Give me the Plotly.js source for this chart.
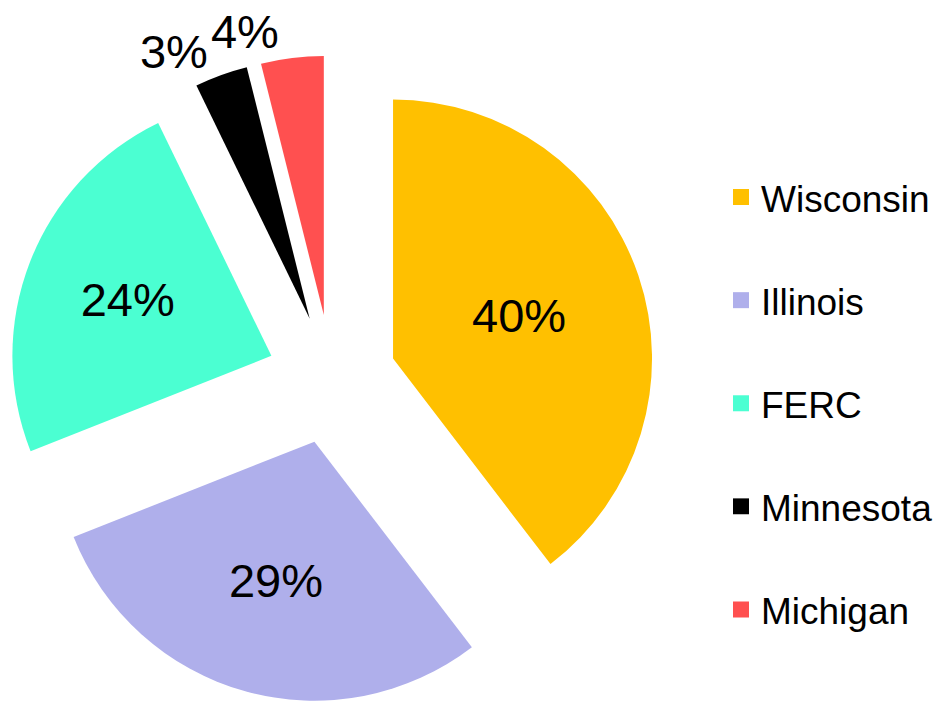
<!DOCTYPE html>
<html>
<head>
<meta charset="utf-8">
<script src="https://cdn.plot.ly/plotly-3.0.1.min.js"></script>
<style>html,body{margin:0;padding:0;background:#fff;overflow:hidden}#chart{width:938px;height:703px}</style>
</head>
<body>
<div id="chart"></div>
<script>
const categories = ["Wisconsin", "Illinois", "FERC", "Minnesota", "Michigan"];
const shares = [39.6, 29.4, 23.8, 3.3, 3.9];
const colors = ["#FFC000", "#AFAFEB", "#4BFFD2", "#000000", "#FF5050"];
// labels of the two thin slices sit outside; each is drawn by its own pie layer
// so that Plotly does not push one label away from the other
const textPositionsMain = ["inside", "inside", "inside", "outside", "none"];
const textPositionsTop = ["none", "none", "none", "none", "outside"];

const FONT = "Liberation Sans, Arial, sans-serif";
const DOMAIN = {x: [0, 0.7073], y: [0, 0.921]};

function pieLayer(markerColors, positions) {
  return {
    type: "pie",
    labels: categories,
    values: shares,
    sort: false,
    direction: "clockwise",
    rotation: 0,
    pull: categories.map(() => 0.25),
    marker: {colors: markerColors, line: {width: 0}},
    texttemplate: "%{percent:.0%}",
    textposition: positions,
    insidetextorientation: "horizontal",
    textfont: {family: FONT, size: 47, color: "#000000"},
    outsidetextfont: {family: FONT, size: 47, color: "#000000"},
    automargin: false,
    showlegend: false,
    domain: DOMAIN,
    hoverinfo: "none"
  };
}

const traces = [
  pieLayer(colors, textPositionsMain),
  pieLayer(categories.map(() => "rgba(0,0,0,0)"), textPositionsTop)
];

categories.forEach((name, i) => {
  traces.push({
    type: "scatter",
    mode: "markers",
    x: [null], y: [null],
    name: name,
    legendgroup: "g" + i,
    marker: {symbol: "square", color: colors[i], size: 19},
    showlegend: true,
    hoverinfo: "none"
  });
});

const layout = {
  width: 938,
  height: 703,
  margin: {l: 0, r: 0, t: 0, b: 0},
  paper_bgcolor: "#ffffff",
  plot_bgcolor: "rgba(0,0,0,0)",
  xaxis: {visible: false},
  yaxis: {visible: false},
  showlegend: true,
  legend: {
    x: 1, xanchor: "right",
    y: 0.426, yanchor: "middle",
    font: {family: FONT, size: 37, color: "#000000"},
    tracegroupgap: 52,
    bgcolor: "rgba(0,0,0,0)",
    itemclick: false,
    itemdoubleclick: false
  }
};

Plotly.newPlot("chart", traces, layout, {displayModeBar: false, staticPlot: true});
</script>
</body>
</html>
